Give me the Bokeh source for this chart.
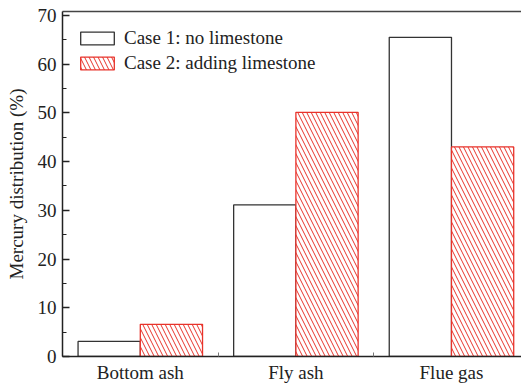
from bokeh.plotting import figure
from bokeh.models import (ColumnDataSource, FixedTicker, SingleIntervalTicker, LinearAxis,
                          Range1d, Legend, LegendItem)
from bokeh.transform import dodge
from bokeh.embed import file_html
from bokeh.resources import INLINE

categories = ["Bottom ash", "Fly ash", "Flue gas"]
case1 = [3.1, 31.1, 65.5]
case2 = [6.6, 50.1, 43.0]
y_ticks = [0, 10, 20, 30, 40, 50, 60, 70]

xpos = [1, 2, 3]
src = ColumnDataSource(dict(x=xpos, case1=case1, case2=case2))

FONT = "Liberation Serif"
p = figure(width=521, height=385, output_backend="svg", toolbar_location=None,
           x_range=Range1d(0.5, 3.45), y_range=Range1d(0, 70.8),
           min_border_left=62, min_border_right=0, min_border_top=11, min_border_bottom=29)
p.grid.visible = False
p.outline_line_color = None
p.background_fill_color = "white"

r1 = p.vbar(x=dodge("x", -0.2, range=p.x_range), top="case1", width=0.4, source=src,
            fill_color="white", line_color="#333333", line_width=1.3)
r2 = p.vbar(x=dodge("x", 0.2, range=p.x_range), top="case2", width=0.4, source=src,
            fill_color="white", line_color="#e8332b", line_width=1.3,
            hatch_pattern="\\", hatch_color="#e8332b", hatch_weight=1, hatch_scale=9)

# y axis
ya = p.yaxis[0]
ya.ticker = SingleIntervalTicker(interval=10, num_minor_ticks=2)
ya.axis_label = "Mercury distribution (%)"
ya.axis_label_text_font = FONT
ya.axis_label_text_font_style = "normal"
ya.axis_label_text_font_size = "19px"
ya.axis_label_text_color = "#222222"
ya.axis_label_standoff = 8
ya.major_label_text_font = FONT
ya.major_label_text_font_size = "19px"
ya.major_label_text_color = "#222222"
ya.major_label_standoff = 6
ya.major_tick_in = 7
ya.major_tick_out = 0
ya.minor_tick_in = 4
ya.minor_tick_out = 0
ya.axis_line_width = 1.5
ya.major_tick_line_width = 1.5
ya.axis_line_color = "#222222"
ya.major_tick_line_color = "#222222"
ya.minor_tick_line_color = "#222222"

# x axis
xa = p.xaxis[0]
xa.ticker = FixedTicker(ticks=xpos, minor_ticks=[1.5, 2.5])
xa.major_label_overrides = {x: c for x, c in zip(xpos, categories)}
xa.major_label_text_font = FONT
xa.major_label_text_font_size = "19px"
xa.major_label_text_color = "#222222"
xa.major_label_standoff = 5
xa.major_tick_in = 0
xa.major_tick_out = 0
xa.minor_tick_in = 4
xa.minor_tick_out = 0
xa.minor_tick_line_color = "#777777"
xa.axis_line_width = 1.5
xa.axis_line_color = "#222222"

# top border
top = LinearAxis(major_tick_in=0, major_tick_out=0, minor_tick_in=0, minor_tick_out=0,
                 major_label_text_font_size="0px", axis_line_color="#444444", axis_line_width=1.3)
top.ticker = FixedTicker(ticks=[])
p.add_layout(top, "above")

legend = Legend(items=[LegendItem(label="Case 1: no limestone", renderers=[r1]),
                       LegendItem(label="Case 2: adding limestone", renderers=[r2])],
                location=(14, 282), margin=0, padding=0, spacing=3,
                glyph_width=42, glyph_height=16, label_standoff=6,
                label_text_font=FONT, label_text_font_size="19px", label_text_color="#222222",
                border_line_color=None, background_fill_alpha=0)
p.add_layout(legend)

open("out.html", "w").write(file_html(p, INLINE))
